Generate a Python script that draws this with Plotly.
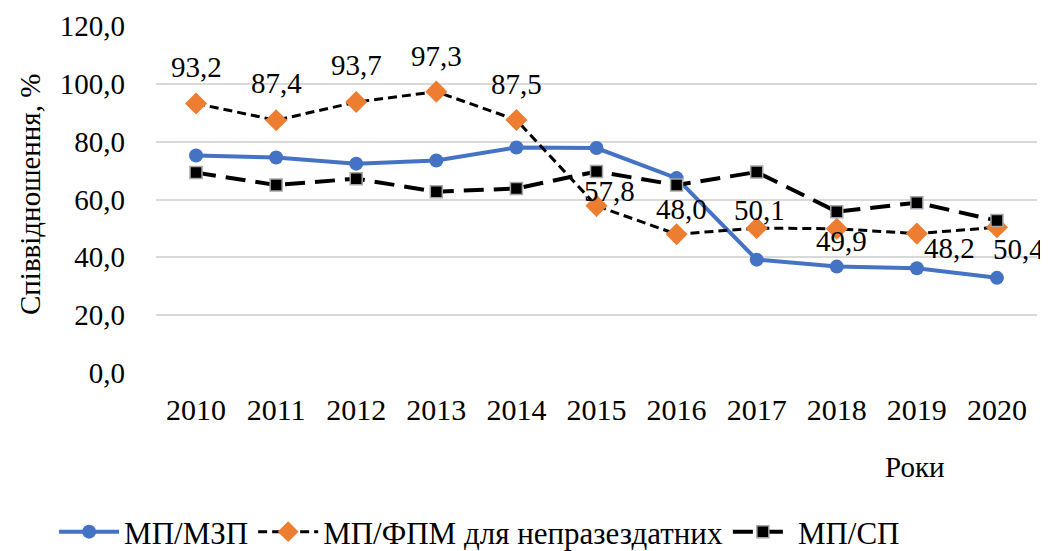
import plotly.graph_objects as go

years = [2010, 2011, 2012, 2013, 2014, 2015, 2016, 2017, 2018, 2019, 2020]
mp_mzp = [75.2, 74.5, 72.4, 73.5, 78.0, 77.8, 67.4, 39.2, 36.8, 36.2, 32.9]
mp_fpm = [93.2, 87.4, 93.7, 97.3, 87.5, 57.8, 48.0, 50.1, 49.9, 48.2, 50.4]
mp_sp = [69.3, 65.0, 67.2, 62.7, 63.8, 69.7, 65.0, 69.5, 55.8, 58.9, 52.7]
y_ticks = [0, 20, 40, 60, 80, 100, 120]

label_text = [f"{v:.1f}".replace(".", ",") for v in mp_fpm]
y_tick_text = [f"{v:.1f}".replace(".", ",") for v in y_ticks]
# pixel offsets of data labels (style)
label_dx = [0, 0, 0, 0, 0, 13, 5, 3, 5, 33, 22]
label_dy = [37, 37, 37, 36, 36, 15, 25, 18, -12, -14, -22]

FONT = "Liberation Serif"

fig = go.Figure()
fig.add_trace(go.Scatter(
    x=years, y=mp_mzp, name="МП/МЗП", mode="lines+markers",
    line=dict(color="#4472C4", width=4),
    marker=dict(symbol="circle", size=14, color="#4472C4"),
))
fig.add_trace(go.Scatter(
    x=years, y=mp_fpm, name="МП/ФПМ для непразездатних", mode="lines+markers",
    line=dict(color="black", width=3, dash="9px,5px"),
    marker=dict(symbol="diamond", size=17, color="#ED7D31"),
))
fig.add_trace(go.Scatter(
    x=years, y=mp_sp, name="МП/СП", mode="lines+markers",
    line=dict(color="black", width=4, dash="20px,10px"),
    marker=dict(symbol="square", size=12, color="black", line=dict(color="#a6a6a6", width=1.5)),
))

annotations = []
for x, y, t, dx, dy in zip(years, mp_fpm, label_text, label_dx, label_dy):
    annotations.append(dict(x=x, y=y, text=t, showarrow=False, xshift=dx, yshift=dy,
                            font=dict(family=FONT, size=29, color="black")))
annotations.append(dict(x=0.8615, y=-0.271, xref="paper", yref="paper", text="Роки",
                        xanchor="center", yanchor="middle",
                        showarrow=False, font=dict(family=FONT, size=29, color="black")))
annotations.append(dict(x=-0.143, y=0.513, xref="paper", yref="paper", text="Співвідношення, %",
                        xanchor="center", yanchor="middle",
                        textangle=-90, showarrow=False, font=dict(family=FONT, size=29, color="black")))

fig.update_layout(
    width=1048, height=551,
    margin=dict(l=148, r=19, t=18, b=186, autoexpand=False),
    paper_bgcolor="white", plot_bgcolor="white",
    font=dict(family=FONT, size=29, color="black"),
    showlegend=True,
    legend=dict(orientation="h", xref="container", yref="container", x=0.45, xanchor="center",
                y=0.049, yanchor="middle", font=dict(family=FONT, size=31), itemwidth=60),
    annotations=annotations,
    xaxis=dict(range=[2009.5, 2020.5], tickmode="array", tickvals=years,
               ticktext=[str(y) for y in years], showgrid=False, showline=False,
               zeroline=False, ticks="", tickfont=dict(family=FONT, size=30),
               ticklabelstandoff=16),
    yaxis=dict(range=[0, 120], tickmode="array", tickvals=y_ticks, ticktext=y_tick_text,
               showgrid=True, gridcolor="#d9d9d9", gridwidth=2, zeroline=False,
               showline=False, ticks="", tickfont=dict(family=FONT, size=29),
               ticklabelstandoff=30),
)

fig.write_html("out.html")
